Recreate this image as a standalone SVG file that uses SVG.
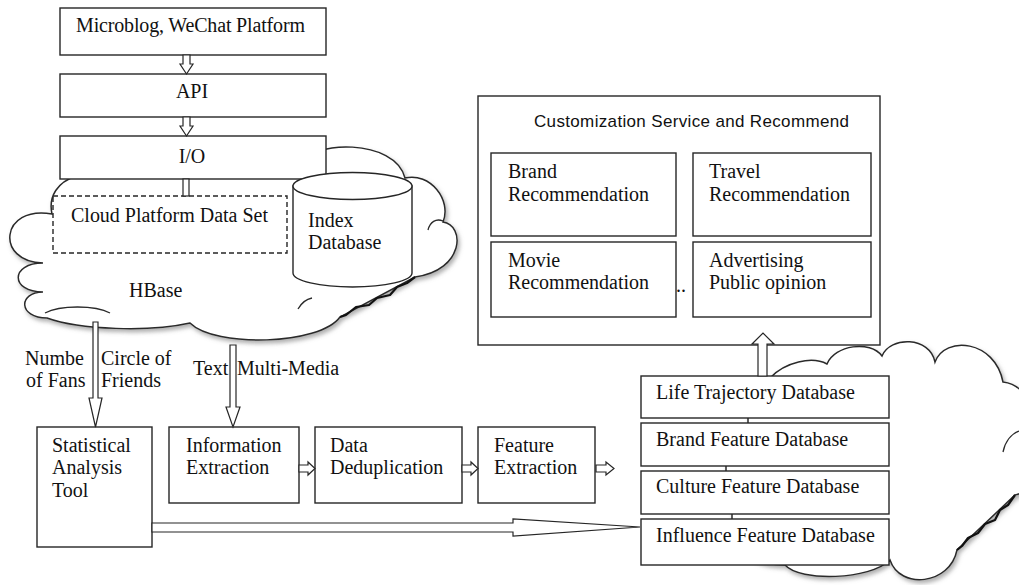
<svg xmlns="http://www.w3.org/2000/svg" width="1019" height="585" viewBox="0 0 1019 585">
  <defs>
    <style>
      .box { fill: #fff; stroke: #262626; stroke-width: 1.4; }
      .dash { fill: none; stroke: #262626; stroke-width: 1.4; stroke-dasharray: 5 3; }
      .cloud { fill: #fff; stroke: #2a2a2a; stroke-width: 1.5; filter: url(#soft); }
      .tick { fill: none; stroke: #2a2a2a; stroke-width: 1.3; }
      .jag { fill: none; stroke: #111; stroke-width: 2.2; stroke-linejoin: round; }
      .arrow { fill: #fff; stroke: #262626; stroke-width: 1.2; stroke-linejoin: miter; }
      .t { font-family: "Liberation Serif", "Times New Roman", serif; font-size: 20px; fill: #111; }
      .c { text-anchor: middle; }
      .s { font-family: "Liberation Sans", Arial, sans-serif; font-size: 17px; fill: #111; }
    </style>
    <filter id="soft" x="-10%" y="-10%" width="125%" height="125%">
      <feDropShadow dx="2" dy="3" stdDeviation="2" flood-color="#7a7a7a" flood-opacity="0.6"/>
    </filter>
  </defs>

  <rect x="0" y="0" width="1019" height="585" fill="#fff"/>

  <!-- HBase cloud -->
  <g id="hbase-cloud">
    <path class="cloud" d="M 52,214 C 48,196 58,182 76,176 C 120,142 220,142 300,165 C 310,140 395,138 405,178 C 430,172 452,200 443,222 C 465,225 465,270 415,277 L 340,317 C 320,345 215,348 190,323 C 150,332 80,330 47,318 C 18,318 18,292 43,292 C 10,292 10,263 43,263 C -5,262 0,205 52,214 Z"/>
    <polyline class="jag" points="415,277 407,283 397,287 390,295 377,298 369,305 356,307 346,315 340,317"/>
    <path class="tick" d="M 45,313 C 60,305 95,305 110,313"/>
    <path class="tick" d="M 428,230 C 430,222 436,218 443,221"/>
    <path class="tick" d="M 298,309 C 302,302 307,299 312,298"/>
    <text class="t" x="129" y="297">HBase</text>
  </g>

  <!-- Profile database cloud -->
  <g id="profile-cloud">
    <path class="cloud" d="M 770,378 C 785,362 812,356 827,364 C 835,345 870,340 882,356 C 890,336 930,336 935,362 C 945,335 995,340 1003,382 C 1030,385 1040,420 1025,440 C 1045,460 1040,490 1015,495 L 957,550 C 950,585 900,590 890,560 C 870,580 800,582 785,565 C 740,565 732,540 732,519 L 732,514 C 732,495 726,480 726,471 L 726,466 C 726,445 748,430 748,423 L 748,418 C 748,400 760,385 770,378 Z"/>
    <polyline class="jag" points="1015,495 1008,505 1000,510 995,520 985,524 978,533 968,538 962,546 957,550"/>
    <path class="tick" d="M 1003,452 C 1005,442 1011,434 1019,431"/>
  </g>

  <!-- Source chain -->
  <g id="platform">
    <rect class="box" x="60" y="8" width="266" height="47"/>
    <text class="t" x="76" y="32" textLength="229">Microblog,  WeChat Platform</text>
  </g>
  <g id="api">
    <rect class="box" x="60" y="74" width="266" height="43"/>
    <text class="t c" x="192" y="98">API</text>
  </g>
  <g id="io">
    <rect class="box" x="60" y="136" width="266" height="43"/>
    <text class="t c" x="192" y="163">I/O</text>
  </g>

  <!-- Storage inside the HBase cloud -->
  <g id="dataset">
    <rect class="dash" x="53" y="196" width="234" height="57"/>
    <text class="t" x="71" y="222" textLength="197">Cloud Platform  Data Set</text>
  </g>
  <g id="index-db">
    <path class="box" d="M 293,186 L 293,273 A 59.5,14 0 0 0 412,273 L 412,186 Z"/>
    <ellipse class="box" cx="352.5" cy="186" rx="59.5" ry="13.5"/>
    <text class="t" x="308" y="227">Index</text>
    <text class="t" x="308" y="249">Database</text>
  </g>

  <!-- Processing row -->
  <g id="stat-tool">
    <rect class="box" x="37" y="427" width="115" height="120"/>
    <text class="t" x="52" y="452">Statistical</text>
    <text class="t" x="52" y="474">Analysis</text>
    <text class="t" x="52" y="497">Tool</text>
  </g>
  <g id="info-extraction">
    <rect class="box" x="169" y="427" width="130" height="76"/>
    <text class="t" x="186" y="452">Information</text>
    <text class="t" x="186" y="474">Extraction</text>
  </g>
  <g id="dedup">
    <rect class="box" x="315" y="427" width="147" height="76"/>
    <text class="t" x="330" y="452">Data</text>
    <text class="t" x="330" y="474">Deduplication</text>
  </g>
  <g id="feature-extraction">
    <rect class="box" x="478" y="427" width="117" height="76"/>
    <text class="t" x="494" y="452">Feature</text>
    <text class="t" x="494" y="474">Extraction</text>
  </g>

  <!-- Feature database stack -->
  <g id="life-db">
    <rect class="box" x="641" y="376" width="248" height="42"/>
    <text class="t" x="656" y="399">Life Trajectory Database</text>
  </g>
  <g id="brand-db">
    <rect class="box" x="641" y="423" width="248" height="43"/>
    <text class="t" x="656" y="446">Brand Feature Database</text>
  </g>
  <g id="culture-db">
    <rect class="box" x="641" y="471" width="248" height="43"/>
    <text class="t" x="656" y="493">Culture Feature Database</text>
  </g>
  <g id="influence-db">
    <rect class="box" x="641" y="519" width="248" height="46"/>
    <text class="t" x="656" y="542">Influence Feature Database</text>
  </g>

  <!-- Service panel -->
  <g id="service">
    <rect class="box" x="478" y="96" width="402" height="249"/>
    <text class="s" x="534" y="127" textLength="315">Customization  Service and Recommend</text>
  </g>
  <g id="brand-rec">
    <rect class="box" x="491" y="153" width="185" height="83"/>
    <text class="t" x="508" y="178">Brand</text>
    <text class="t" x="508" y="201">Recommendation</text>
  </g>
  <g id="travel-rec">
    <rect class="box" x="693" y="153" width="178" height="83"/>
    <text class="t" x="709" y="178">Travel</text>
    <text class="t" x="709" y="201">Recommendation</text>
  </g>
  <g id="movie-rec">
    <rect class="box" x="491" y="242" width="185" height="75"/>
    <text class="t" x="508" y="267">Movie</text>
    <text class="t" x="508" y="289">Recommendation</text>
  </g>
  <g id="ad-rec">
    <rect class="box" x="693" y="242" width="178" height="75"/>
    <text class="t" x="709" y="267">Advertising</text>
    <text class="t" x="709" y="289">Public opinion</text>
  </g>
  <text class="t" x="676" y="292">..</text>

  <!-- Edge labels -->
  <g id="labels">
    <text class="t" x="25" y="365">Numbe</text>
    <text class="t" x="26" y="387">of Fans</text>
    <text class="t" x="101" y="365">Circle  of</text>
    <text class="t" x="101" y="387">Friends</text>
    <text class="t" x="193" y="375">Text</text>
    <text class="t" x="237" y="375">Multi-Media</text>
  </g>

  <!-- Connectors: hollow block arrows -->
  <g id="connectors">
    <path class="arrow" d="M183,55 L190,55 L190,64 L193,64 L186.5,74 L180,64 L183,64 Z"/>
    <path class="arrow" d="M183,117 L190,117 L190,126 L193,126 L186.5,136 L180,126 L183,126 Z"/>
    <rect class="arrow" x="183" y="179" width="6" height="17"/>
    <path class="arrow" d="M93,322 L98,322 L98,398 L102,398 L95.5,427 L89,398 L93,398 Z"/>
    <path class="arrow" d="M230,345 L236,345 L236,407 L240,407 L233,427 L226,407 L230,407 Z"/>
    <path class="arrow" d="M299,465 L308,465 L308,462 L315,468.5 L308,475 L308,472 L299,472 Z"/>
    <path class="arrow" d="M462,465 L471,465 L471,462 L478,468.5 L471,475 L471,472 L462,472 Z"/>
    <path class="arrow" d="M596,465 L606,465 L606,462 L614,468.5 L606,475 L606,472 L596,472 Z"/>
    <path class="arrow" d="M152,523 L513,523 L513,519 L640,527 L513,536 L513,532 L152,532 Z"/>
    <path class="arrow" d="M758,376 L758,344 L752,344 L763,333 L774,344 L767,344 L767,376 Z"/>
  </g>
</svg>
